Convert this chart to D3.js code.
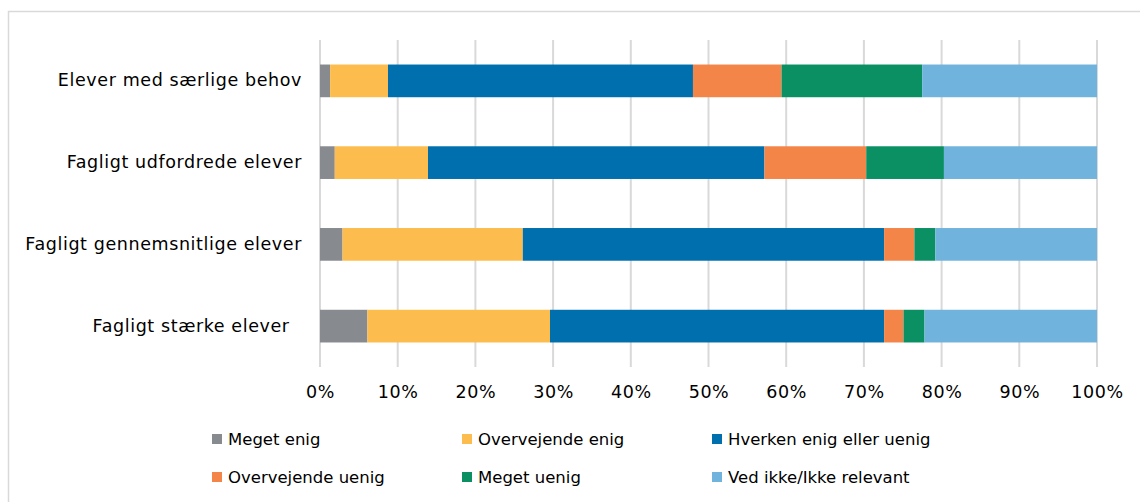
<!DOCTYPE html>
<html><head><meta charset="utf-8">
<script src="https://cdn.jsdelivr.net/npm/d3@7/dist/d3.min.js"></script>
<style>body{margin:0;background:#fff}svg{display:block}</style>
</head><body>
<svg id="c" width="1140" height="502"></svg>
<script>
const categories = ["Elever med særlige behov","Fagligt udfordrede elever","Fagligt gennemsnitlige elever","Fagligt stærke elever  "];
const seriesNames = ["Meget enig","Overvejende enig","Hverken enig eller uenig","Overvejende uenig","Meget uenig","Ved ikke/Ikke relevant"];
const megetEnig = [1.3, 1.9, 2.9, 6.1];
const overvejendeEnig = [7.45, 12.0, 23.2, 23.5];
const hverken = [39.25, 43.3, 46.5, 43.0];
const overvejendeUenig = [11.4, 13.1, 3.9, 2.5];
const megetUenig = [18.1, 10.0, 2.7, 2.7];
const vedIkke = [22.5, 19.7, 20.8, 22.2];
const tickValues = [0,10,20,30,40,50,60,70,80,90,100];
const colors = ["#878a8e","#fdbd4e","#006fae","#f48549","#0a9063","#70b4dd"];

const seriesValues = [megetEnig, overvejendeEnig, hverken, overvejendeUenig, megetUenig, vedIkke];
const rows = categories.map((c,i)=>{const o={cat:c}; seriesNames.forEach((s,j)=>o[s]=seriesValues[j][i]); return o;});

const svg = d3.select("#c");
svg.append("rect").attr("x",8.5).attr("y",11.5).attr("width",1140).attr("height",500)
  .attr("fill","none").attr("stroke","#d9d9d9").attr("stroke-width",1.5);

const x = d3.scaleLinear().domain([0,100]).range([320,1097]);
const y = d3.scaleBand().domain(categories).range([40,367]).paddingInner(0.6).paddingOuter(0.3);

svg.append("g").selectAll("line").data(tickValues).join("line")
  .attr("x1",d=>x(d)).attr("x2",d=>x(d)).attr("y1",40).attr("y2",367)
  .attr("stroke","#d9d9d9").attr("stroke-width",2);

const stack = d3.stack().keys(seriesNames)(rows);
svg.append("g").selectAll("g").data(stack).join("g").attr("fill",(d,i)=>colors[i])
  .selectAll("rect").data(d=>d).join("rect")
  .attr("x",d=>x(d[0])).attr("width",d=>x(d[1])-x(d[0]))
  .attr("y",d=>y(d.data.cat)).attr("height",y.bandwidth());

const font = "DejaVu Sans, Verdana, sans-serif";
const xa = svg.append("g").attr("transform","translate(0,367)")
  .call(d3.axisBottom(x).tickValues(tickValues).tickFormat(d=>d+"%").tickSize(0).tickPadding(19));
xa.select(".domain").remove();
xa.selectAll("text").attr("font-family",font).attr("font-size",17.5).attr("letter-spacing","0.6px").attr("fill","#000");

const ya = svg.append("g").attr("transform","translate(320,0)")
  .call(d3.axisLeft(y).tickSize(0).tickPadding(18));
ya.select(".domain").remove();
ya.selectAll("text").attr("font-family",font).attr("font-size",17.5).attr("letter-spacing","0.6px")
  .style("white-space","pre").attr("fill","#000");

const lg = svg.append("g");
const items = lg.selectAll("g").data(seriesNames).join("g")
  .attr("transform",(d,i)=>`translate(${212+250*(i%3)},${439+38*Math.floor(i/3)})`);
items.append("rect").attr("x",0).attr("y",-5).attr("width",10).attr("height",10).attr("fill",(d,i)=>colors[i]);
items.append("text").attr("x",16).attr("dy","0.35em").text(d=>d)
  .attr("font-family",font).attr("font-size",16.5).attr("fill","#000");
</script>
</body></html>
